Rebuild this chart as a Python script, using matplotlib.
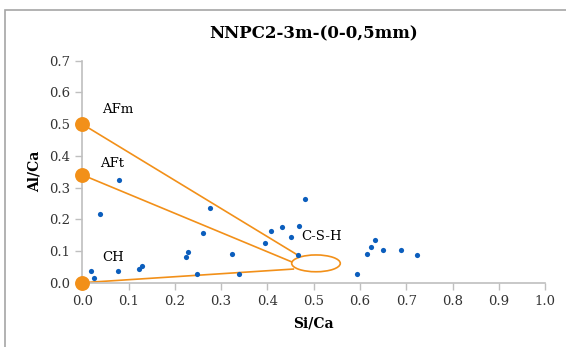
import matplotlib
matplotlib.use("Agg")
import matplotlib.pyplot as plt
from matplotlib.patches import Ellipse, Rectangle

# measured points (Si/Ca, Al/Ca)
si_ca = [0.018, 0.025, 0.038, 0.078, 0.079, 0.123, 0.129, 0.225, 0.228, 0.247,
         0.261, 0.276, 0.324, 0.338, 0.395, 0.408, 0.431, 0.451, 0.466, 0.469,
         0.482, 0.593, 0.615, 0.623, 0.633, 0.649, 0.688, 0.723]
al_ca = [0.036, 0.015, 0.218, 0.036, 0.325, 0.044, 0.053, 0.080, 0.096, 0.028,
         0.157, 0.235, 0.091, 0.028, 0.125, 0.162, 0.177, 0.145, 0.088, 0.179,
         0.264, 0.026, 0.091, 0.112, 0.135, 0.103, 0.102, 0.088]

# reference phases
phase_names = ["AFm", "AFt", "CH"]
phase_x = [0.0, 0.0, 0.0]
phase_y = [0.50, 0.34, 0.0]
# where the tie lines meet the C-S-H zone
line_end_x = [0.469, 0.452, 0.456]
line_end_y = [0.084, 0.066, 0.043]
label_x = [0.076, 0.065, 0.066]
label_y = [0.545, 0.375, 0.080]

csh_center = (0.505, 0.061)
csh_size = (0.105, 0.053)

ORANGE = "#F29019"
BLUE = "#0B5EBD"
GRAY = "#BFBFBF"

plt.rcParams["font.family"] = ["DejaVu Serif"]

fig = plt.figure(figsize=(5.66, 3.47), dpi=100)
ax = fig.add_axes([0.1454, 0.1853, 0.963 - 0.1454, 0.825 - 0.1853])

# outer chart border (cut off at right/bottom like the source)
fig.patches.append(Rectangle((5 / 566, -0.1), 1.2, 1 - 10 / 347 + 0.1,
                             transform=fig.transFigure, fill=False,
                             edgecolor="#A6A6A6", linewidth=1.2))

for px, py, ex, ey in zip(phase_x, phase_y, line_end_x, line_end_y):
    ax.plot([px, ex], [py, ey], color=ORANGE, linewidth=1.2, zorder=2)

ax.add_patch(Ellipse(csh_center, csh_size[0], csh_size[1], fill=False,
                     edgecolor=ORANGE, linewidth=1.2, zorder=2))

ax.scatter(si_ca, al_ca, s=14, color=BLUE, zorder=3, linewidths=0)
ax.scatter(phase_x, phase_y, s=115, color=ORANGE, zorder=4, linewidths=0,
           clip_on=False)

for name, lx, ly in zip(phase_names, label_x, label_y):
    ax.text(lx, ly, name, ha="center", va="center", fontsize=9.5)
ax.text(0.518, 0.145, "C-S-H", ha="center", va="center", fontsize=9.5)

ax.set_xlim(0, 1.0)
ax.set_ylim(0, 0.7)
ax.set_xticks([i / 10 for i in range(11)])
ax.set_yticks([i / 10 for i in range(8)])
ax.set_xticklabels([f"{i / 10:.1f}" for i in range(11)], fontsize=9.5)
ax.set_yticklabels([f"{i / 10:.1f}" for i in range(8)], fontsize=9.5)

for s in ["top", "right"]:
    ax.spines[s].set_visible(False)
for s in ["left", "bottom"]:
    ax.spines[s].set_color(GRAY)
    ax.spines[s].set_linewidth(1.2)
ax.tick_params(axis="both", color=GRAY, length=5, width=1, pad=4,
               labelcolor="#333333")

ax.set_xlabel("Si/Ca", fontsize=10, fontweight="bold", labelpad=6)
ax.set_ylabel("Al/Ca", fontsize=10, fontweight="bold", labelpad=5)
ax.set_title("NNPC2-3m-(0-0,5mm)", fontsize=12, fontweight="bold", pad=16)

fig.savefig("out.png", dpi=100)
